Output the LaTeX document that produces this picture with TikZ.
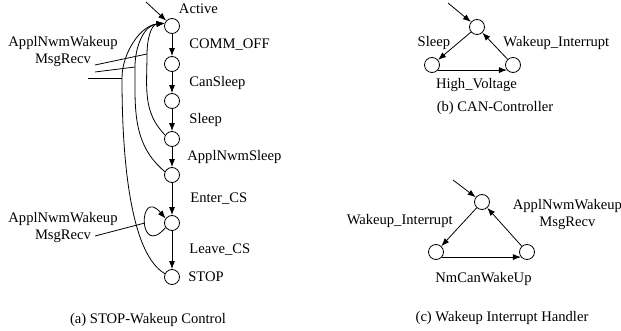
\documentclass[tikz,border=0pt]{standalone}
\usepackage{fontspec}
\setmainfont{Liberation Serif}
\usetikzlibrary{positioning,arrows.meta}

\begin{document}
\begin{tikzpicture}[x=1pt,y=1pt,auto,line width=0.8pt,>={Latex[length=8pt,width=6pt]}]
                    \tikzstyle{every node}=[inner sep=0,font=\fontsize{14.6}{17}\selectfont]
                    \tikzstyle{state}=[draw,circle,fill=white,minimum size=15]
                    \tikzstyle{note}=[align=center]
                    \useasboundingbox (0,0) rectangle (621,-331);
                    {
                        % (a) STOP-Wakeup Control
                        \node[state] (a0) at (172,-26) {};
                        \node[state,node distance=38] (a1) [below of=a0] {};
                        \node[state,node distance=37] (a2) [below of=a1] {};
                        \node[state,node distance=38] (a3) [below of=a2] {};
                        \node[state,node distance=36] (a4) [below of=a3] {};
                        \node[state,node distance=48] (a5) [below of=a4] {};
                        \node[state,node distance=54] (a6) [below of=a5] {};

                        \node[above right=6 and 1 of a0] (lblact) {Active};
                        \node[right=8 of a6] (lblstop) {STOP};

                        \coordinate (ia) at (146,-2);
                        \draw[->] (ia) -- (a0);

                        \path[->]
                            (a0) edge node[right=17] {COMM\_OFF} (a1)
                            (a1) edge node[right=17] {CanSleep} (a2)
                            (a2) edge node[right=17] {Sleep} (a3)
                            (a3) edge node[right=15] {ApplNwmSleep} (a4)
                            (a4) edge node[right=18] {Enter\_CS} (a5)
                            (a5) edge node[right=17] {Leave\_CS} (a6);

                        % wakeup paths back to Active, each through a point on its vertical run
                        \coordinate (w3) at (147,-54);
                        \coordinate (w4) at (135,-67);
                        \coordinate (w6) at (122,-78);
                        \draw[->] (a3.150) to[out=135,in=-90] (w3) to[out=90,in=185] (a0.160);
                        \draw[->] (a4.155) to[out=140,in=-90] (w4) to[out=90,in=185] (a0.160);
                        \draw[->] (a6.155) to[out=150,in=-90,looseness=.6] (w6) to[out=90,in=185,looseness=.9] (a0.160);
                        \draw[->] (a5.215) .. controls (138,-260) and (138,-186) .. (a5.145) coordinate[pos=.5] (w5);

                        \node[note] (wkupa) at (63,-52) {ApplNwmWakeup\\MsgRecv};
                        \node[note] (wkupb) at (63,-228) {ApplNwmWakeup\\MsgRecv};
                        \coordinate (p3) at (95,-65);
                        \coordinate (p4) at (95,-72);
                        \coordinate (p6) at (88,-78);
                        \coordinate (p5) at (95,-236);
                        \draw (p3) -- (w3);
                        \draw (p4) -- (w4);
                        \draw (p6) -- (w6);
                        \draw (p5) -- (w5);

                        \node (capa) at (148,-320) {(a) STOP-Wakeup Control};
                    }
                    {
                        % (b) CAN-Controller
                        \node[state] (b0) at (477,-27) {};
                        \node[state] (b1) at (432,-65) {};
                        \node[state] (b2) at (513,-65) {};
                        \coordinate (ib) at (448,-3);
                        \draw[->] (ib) -- (b0);

                        \path[->]
                            (b0) edge node[left=4,yshift=3] {Sleep} (b1)
                            (b1.-40) edge node[below=8,xshift=4] {High\_Voltage} (b2.220)
                            (b2) edge node[right=8,yshift=3] {Wakeup\_Interrupt} (b0);

                        \node (capb) at (495,-108) {(b) CAN-Controller};
                    }
                    {
                        % (c) Wakeup Interrupt Handler
                        \node[state] (c0) at (482,-202) {};
                        \node[state] (c1) at (436,-252) {};
                        \node[state] (c2) at (527,-252) {};
                        \coordinate (ic) at (453,-180);
                        \draw[->] (ic) -- (c0);

                        \path[->]
                            (c0) edge node[left=6,yshift=6] {Wakeup\_Interrupt} (c1)
                            (c1.-40) edge node[below=15,xshift=2] {NmCanWakeUp} (c2.220)
                            (c2) edge node[note,right=8,yshift=12] {ApplNwmWakeup\\MsgRecv} (c0);

                        \node (capc) at (502,-318) {(c) Wakeup Interrupt Handler};
                    }
                \end{tikzpicture}
\end{document}
